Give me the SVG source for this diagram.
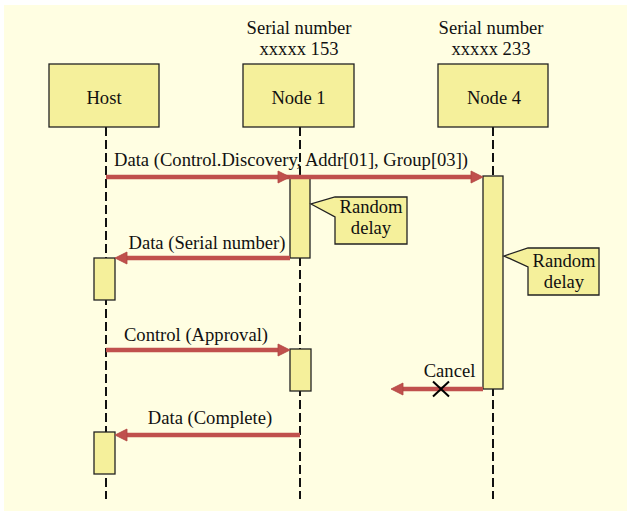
<svg xmlns="http://www.w3.org/2000/svg" width="631" height="513" viewBox="0 0 631 513">
<style>
text{font-family:"Liberation Serif","Times New Roman",serif;font-size:18.6px;fill:#111;}
.c{text-anchor:middle;}
.box{fill:#F5F09B;stroke:#222;stroke-width:1.3;}
.life{stroke:#111;stroke-width:2;stroke-dasharray:9 4;fill:none;}
.msg{stroke:#C0504D;stroke-width:4.5;fill:none;}
.head{fill:#C0504D;stroke:#B04440;stroke-width:0.8;}
</style>
<rect x="4" y="5" width="623" height="506" fill="#FFFEE2"/>
<g id="lifelines">
<line class="life" x1="106" y1="127" x2="106" y2="499"/>
<line class="life" x1="300" y1="127" x2="300" y2="499"/>
<line class="life" x1="493" y1="127" x2="493" y2="499"/>
</g>
<g id="host">
<rect class="box" x="49" y="64" width="110" height="63"/>
<text class="c" x="104" y="104">Host</text>
</g>
<g id="node1">
<rect class="box" x="243" y="64" width="111" height="63"/>
<text class="c" x="299" y="34">Serial number</text>
<text class="c" x="299" y="55">xxxxx 153</text>
<text class="c" x="298.5" y="104">Node 1</text>
</g>
<g id="node4">
<rect class="box" x="438" y="64" width="110" height="63"/>
<text class="c" x="491" y="34">Serial number</text>
<text class="c" x="491" y="55">xxxxx 233</text>
<text class="c" x="494" y="104">Node 4</text>
</g>
<g id="activations">
<rect class="box" x="290" y="177" width="20" height="81"/>
<rect class="box" x="483" y="176" width="20" height="213"/>
<rect class="box" x="94" y="258" width="21" height="42"/>
<rect class="box" x="290" y="349" width="21" height="42"/>
<rect class="box" x="94" y="432" width="21" height="42"/>
</g>
<g id="note1">
<path class="box" d="M335,197 L407,197 L407,244 L335,244 L335,217 L311,204 Z"/>
<text class="c" x="371" y="213">Random</text>
<text class="c" x="371" y="234">delay</text>
</g>
<g id="note2">
<path class="box" d="M528,248 L599,248 L599,295 L528,295 L528,267 L504,256 Z"/>
<text class="c" x="564" y="267">Random</text>
<text class="c" x="564" y="288">delay</text>
</g>
<g id="connectors">
<line class="msg" x1="106" y1="177" x2="478" y2="177"/>
<path class="head" d="M290,177 L278,171 L278,183 Z"/>
<path class="head" d="M483,177 L471,171 L471,183 Z"/>
<text x="114" y="166">Data (Control.Discovery, Addr[01], Group[03])</text>
<line class="msg" x1="290" y1="258" x2="122" y2="258"/>
<path class="head" d="M115,258 L127,252 L127,264 Z"/>
<text class="c" x="207" y="249">Data (Serial number)</text>
<line class="msg" x1="106" y1="350" x2="283" y2="350"/>
<path class="head" d="M290,350 L278,344 L278,356 Z"/>
<text class="c" x="196" y="341">Control (Approval)</text>
<line class="msg" x1="300" y1="435" x2="122" y2="435"/>
<path class="head" d="M115,435 L127,429 L127,441 Z"/>
<text class="c" x="210" y="424">Data (Complete)</text>
<line class="msg" x1="483" y1="389" x2="398" y2="389"/>
<path class="head" d="M391,389 L403,383 L403,395 Z"/>
<path d="M433,381.5 L449,396.5 M449,381.5 L433,396.5" stroke="#000" stroke-width="2" fill="none"/>
<text class="c" x="449.5" y="377">Cancel</text>
</g>
</svg>
